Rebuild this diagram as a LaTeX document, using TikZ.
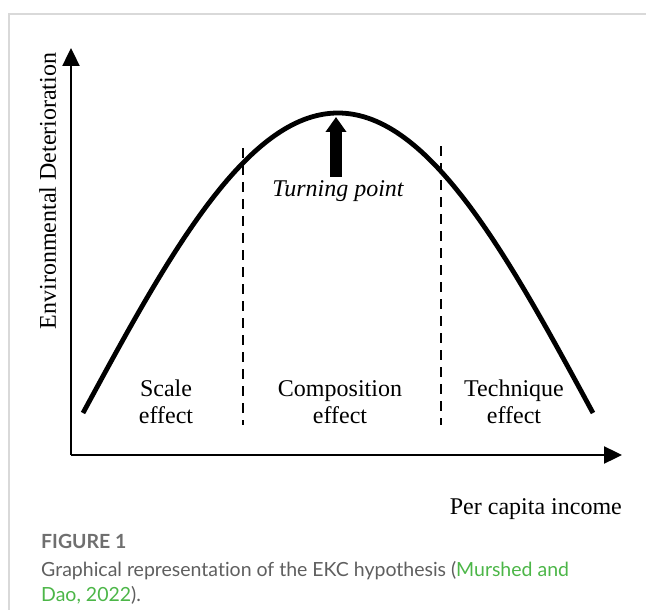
\documentclass[tikz,border=0pt]{standalone}
\usepackage{fontspec}
\setmainfont{Liberation Serif}
\newfontfamily\capfont[Ligatures={NoCommon}]{Lato}
\usetikzlibrary{arrows.meta}
\definecolor{framegray}{HTML}{D9D9D9}
\definecolor{capgray}{HTML}{5F5F5F}
\definecolor{refgreen}{HTML}{4CB648}

\begin{document}
\begin{tikzpicture}[x=1pt,y=-1pt,
    axis/.style={line width=2.4pt,-{Triangle[length=18pt,width=17pt]}},
    regionline/.style={line width=2.8pt,dash pattern=on 10pt off 7pt},
    efftext/.style={font=\fontsize{24}{27}\selectfont,inner sep=0pt,align=center},
    captext/.style={font=\capfont\fontsize{19.5}{25}\selectfont,text=capgray,inner sep=0pt,anchor=base west},
    bigarrow/.style={line width=12pt,-{Triangle[length=15pt,width=20pt]}}]
  \useasboundingbox (0,0) rectangle (646,610);
  % frame
  \draw[framegray,line width=1.5pt] (9,610) -- (9,14) -- (646,14);
  % axes
  \coordinate (origin) at (71,455);
  \coordinate (ytip) at (71,48);
  \coordinate (xtip) at (622,455);
  \draw[axis] (origin) -- (ytip);
  \draw[axis] (origin) -- (xtip);
  \node[efftext,rotate=90,anchor=base] (ylab) at (56,191) {Environmental Deterioration};
  \node[efftext,anchor=base east] (xlab) at (622,514) {Per capita income};
  % the curve
  \coordinate (left) at (83,413);
  \coordinate (top) at (338,113);
  \coordinate (right) at (593,413);
  \draw[line width=4.8pt] (left) sin (top) cos (right);
  % region borders
  \coordinate (d1top) at (243,148);
  \coordinate (d1bot) at (243,425);
  \coordinate (d2top) at (441,146);
  \coordinate (d2bot) at (441,425);
  \draw[regionline] (d1top) -- (d1bot);
  \draw[regionline] (d2top) -- (d2bot);
  % turning point
  \node[efftext,font=\fontsize{24}{27}\selectfont\itshape,anchor=base] (tp) at (338,196) {Turning point};
  \coordinate (peak) at (336,117);
  \draw[bigarrow] (tp.north -| peak) ++(0,-3) -- (peak);
  % effects
  \node[efftext] (scale) at (166,402) {Scale\\effect};
  \node[efftext] (comp) at (340,402) {Composition\\effect};
  \node[efftext] (tech) at (514,402) {Technique\\effect};
  % caption
  \node[captext,font=\capfont\bfseries\fontsize{19.5}{25}\selectfont,text=capgray!90] (fig) at (41,548) {FIGURE 1};
  \node[captext] (cap1) at (41,576) {Graphical representation of the EKC hypothesis (\textcolor{refgreen}{Murshed and}};
  \node[captext] (cap2) at (41,601) {\textcolor{refgreen}{Dao, 2022}).};
\end{tikzpicture}
\end{document}
